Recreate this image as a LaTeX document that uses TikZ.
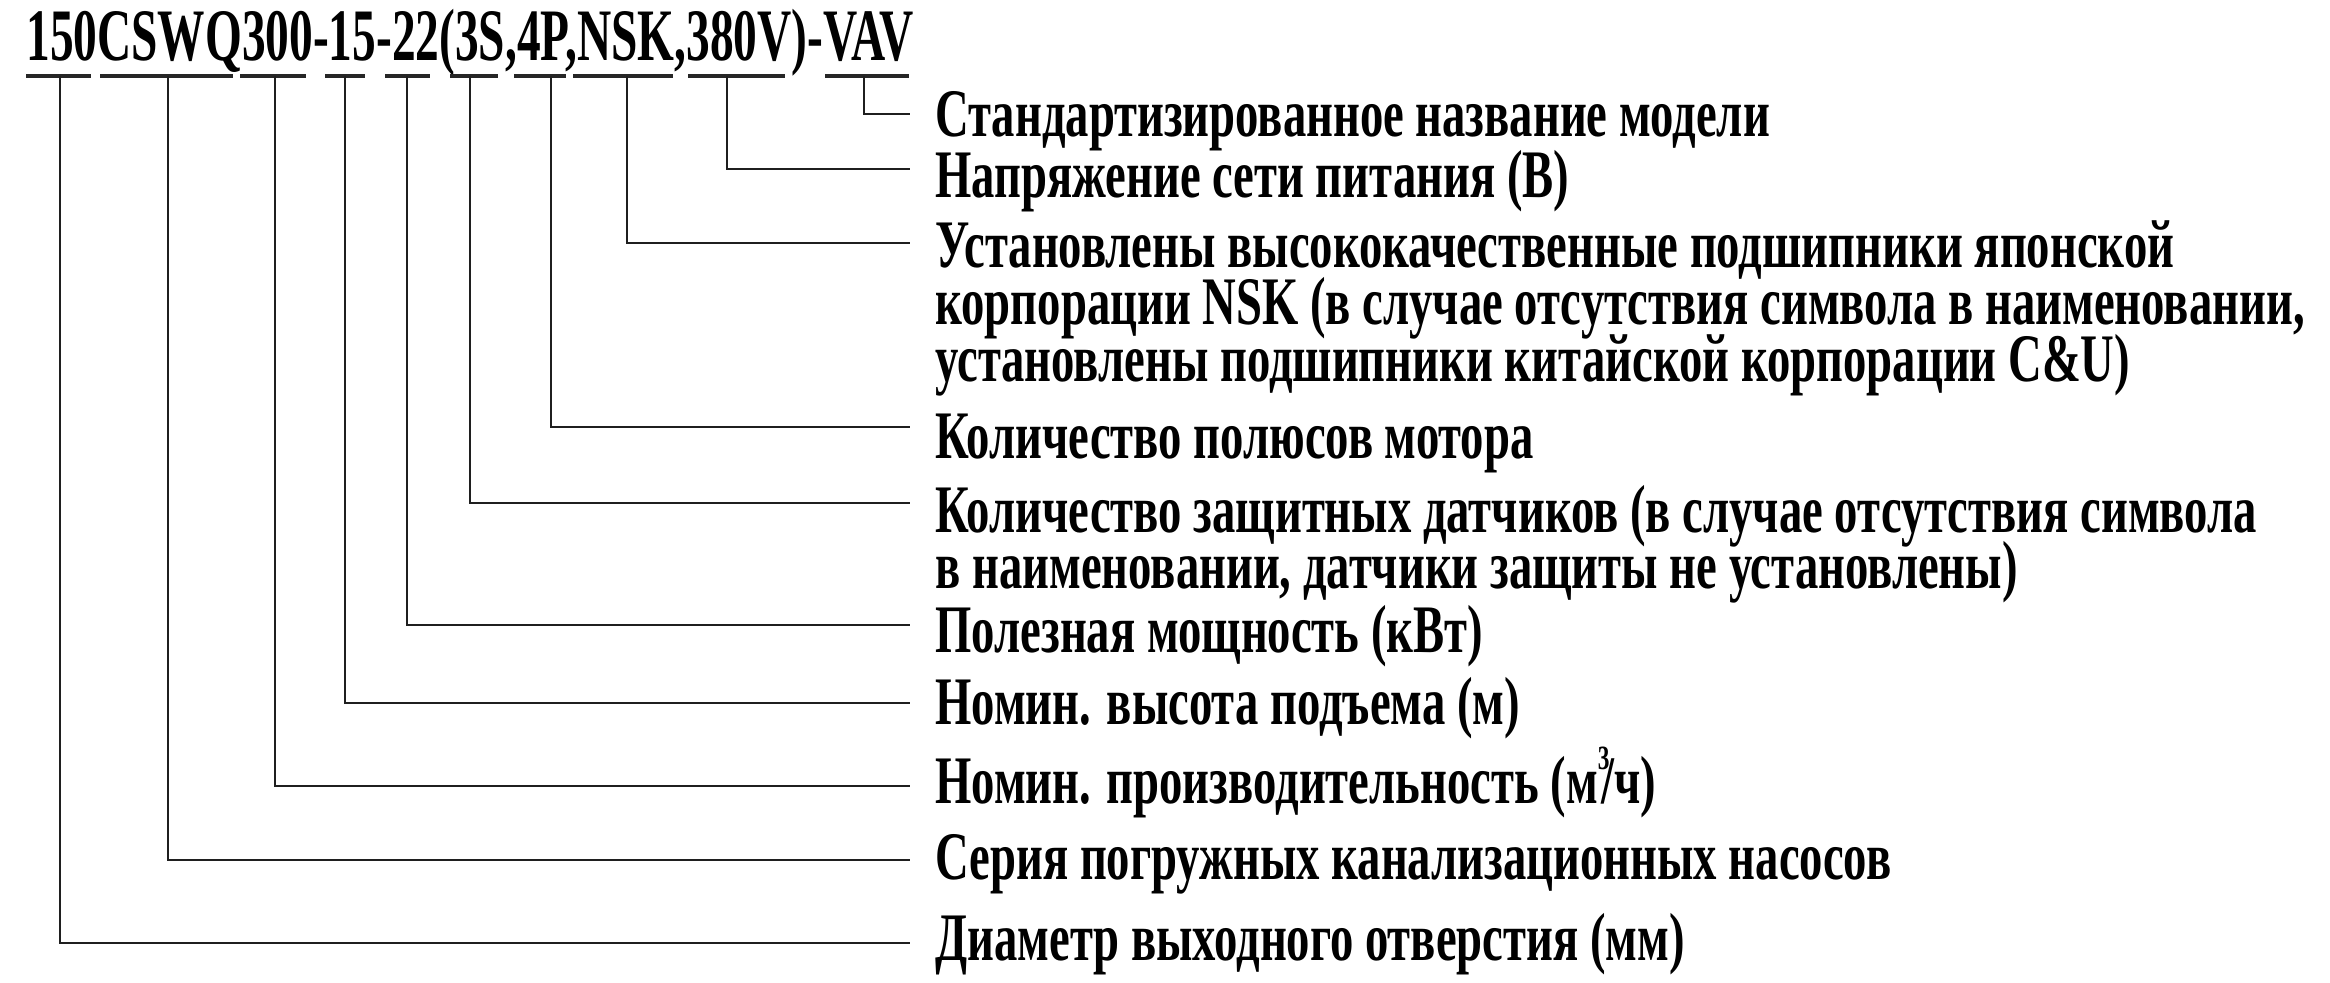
\documentclass[tikz,border=0pt]{standalone}
\usepackage{fontspec}
\setmainfont{Liberation Serif}
\newfontfamily\codefont{Liberation Serif}[FakeStretch=0.64]
\newfontfamily\descfont{Liberation Serif}[FakeStretch=0.686]
\tikzset{
  desc/.style={anchor=base west, inner sep=0pt, font=\descfont\bfseries\fontsize{34}{28}\selectfont},
  codetext/.style={anchor=base west, inner sep=0pt, font=\codefont\bfseries\fontsize{37}{38}\selectfont},
  conn/.style={line width=1.4pt, black!88},
  uline/.style={line width=2pt, black!85},
}
\newcommand{\twoline}[2]{\vtop{\lineskiplimit=-100pt\baselineskip=28pt\hbox{#1}\hbox{#2}}}
\newcommand{\threeline}[3]{\vtop{\lineskiplimit=-100pt\baselineskip=28.5pt\hbox{#1}\hbox{#2}\hbox{#3}}}
\begin{document}
\begin{tikzpicture}[x=0.5pt,y=-0.5pt]
\useasboundingbox (0,0) rectangle (2330,982);
\node[codetext] (code) at (26,60) {150CSWQ300-15-22(3S,4P,NSK,380V)-VAV};
% underlines
\foreach \a/\b in {26/91,100/233,240/306,325/365,385/430,450/498,514/566,573/673,688/785,825/909}
  \draw[uline] (\a,76) -- (\b,76);
% connectors
\foreach \i/\x/\y in {1/864/114,2/727/169,3/627/243,4/551/427,5/470/503,6/407/625,7/345/703,8/275/786,9/168/860,10/60/943}{
  \coordinate (u\i) at (\x,76);
  \coordinate (e\i) at (910,\y);
  \draw[conn] (u\i) |- (e\i);
}
\node[desc] (d1) at (935,136) {Стандартизированное название модели};
\node[desc] (d2) at (935,197) {Напряжение сети питания (В)};
\node[desc] (d3) at (935,267) {\threeline{Установлены высококачественные подшипники японской}{корпорации NSK (в случае отсутствия символа в наименовании,}{установлены подшипники китайской корпорации C\&U)}};
\node[desc] (d4) at (935,458) {Количество полюсов мотора};
\node[desc] (d5) at (935,532) {\twoline{Количество защитных датчиков (в случае отсутствия символа}{в наименовании, датчики защиты не установлены)}};
\node[desc] (d6) at (935,652) {Полезная мощность (кВт)};
\node[desc] (d7) at (935,724) {Номин. высота подъема (м)};
\node[desc] (d8) at (935,803) {Номин. производительность (м\raisebox{0.5em}{\fontsize{17}{17}\selectfont 3}\kern-0.12em/ч)};
\node[desc] (d9) at (935,879) {Серия погружных канализационных насосов};
\node[desc] (d10) at (935,960) {Диаметр выходного отверстия (мм)};
\end{tikzpicture}
\end{document}
